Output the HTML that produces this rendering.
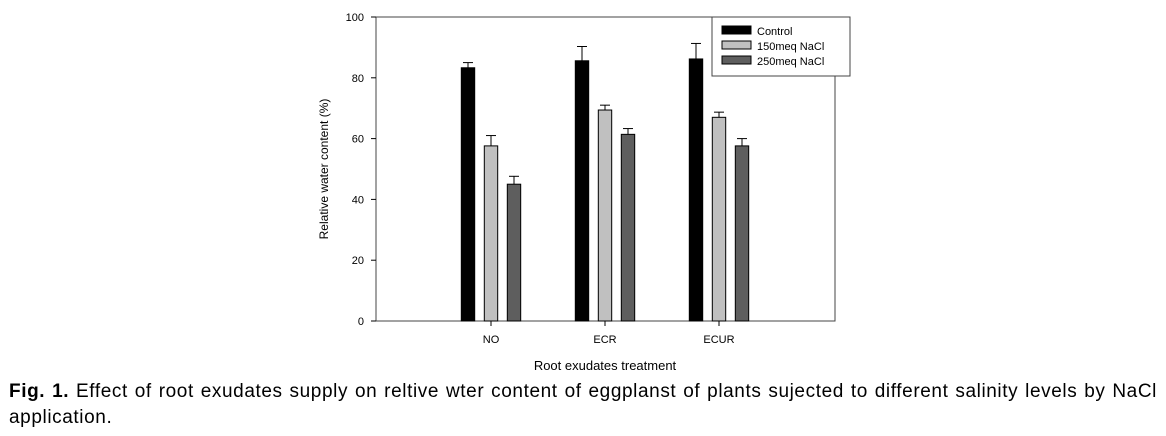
<!DOCTYPE html>
<html><head><meta charset="utf-8"><style>
body{margin:0;width:1166px;height:436px;background:#fff;overflow:hidden;position:relative;font-family:"Liberation Sans",sans-serif}
#cap{position:absolute;left:9px;top:379px;width:1148px;font-size:19px;letter-spacing:0.6px;line-height:26px;text-align:justify;text-align-last:left;color:#000}
</style></head><body>
<svg id="chart" width="1166" height="380" style="position:absolute;left:0;top:0" font-family="Liberation Sans, sans-serif"></svg>
<div id="cap"><b>Fig. 1.</b> Effect of root exudates supply on reltive wter content of eggplanst of plants sujected to different salinity levels by NaCl application.</div>
<script>
const categories=["NO","ECR","ECUR"];
const seriesNames=["Control","150meq NaCl","250meq NaCl"];
const control=[83.3,85.6,86.2];
const nacl150=[57.6,69.4,67.0];
const nacl250=[45.0,61.4,57.6];
const errControl=[1.7,4.7,5.1];
const err150=[3.4,1.6,1.7];
const err250=[2.6,1.9,2.4];
const yTicks=[0,20,40,60,80,100];
const colors=["#000000","#c0c0c0","#5e5e5e"];
const svg=document.getElementById('chart');const NS="http://www.w3.org/2000/svg";
function mk(t,a,p){const e=document.createElementNS(NS,t);for(const k in a)e.setAttribute(k,a[k]);(p||svg).appendChild(e);return e;}
const L=376,R=835,T=17,B=321;
const y=v=>B-(v-0)/(100-0)*(B-T);
const x=i=>491+i*114;
const bw=13.4,step=23;
const frame=mk('rect',{x:L,y:T,width:R-L,height:B-T,fill:'none',stroke:'#444','stroke-width':1});


yTicks.forEach(v=>{
 const tk=mk('line',{x1:L-5,x2:L,y1:y(v),y2:y(v),stroke:'#000'});
 
 
 const t=mk('text',{x:L-12,y:y(v)+4,'text-anchor':'end','font-size':11,fill:'#000'});t.textContent=v;
 
 
});
const series=[control,nacl150,nacl250],errs=[errControl,err150,err250];
categories.forEach((c,i)=>{
 const tk=mk('line',{x1:x(i),x2:x(i),y1:B,y2:B+5,stroke:'#000'});
 
 
 const t=mk('text',{x:x(i),y:B+22,'text-anchor':'middle','font-size':11});t.textContent=c;
 
 
 series.forEach((s,j)=>{
  const cx=x(i)+(j-1)*step;
  const top=y(s[i]+errs[j][i]);
  const el=mk('line',{x1:cx,x2:cx,y1:top,y2:y(s[i]),stroke:'#000'});
  
  
  const ec=mk('line',{x1:cx-5,x2:cx+5,y1:top,y2:top,stroke:'#000'});
  
  
  const r=mk('rect',{x:cx-bw/2,y:y(s[i]),width:bw,height:B-y(s[i]),fill:colors[j],stroke:'#000','stroke-width':1});
  
  
 });
});
const yl=mk('text',{x:0,y:0,transform:'translate(328,169) rotate(-90)','text-anchor':'middle','font-size':12});yl.textContent='Relative water content (%)';


const xl=mk('text',{x:605,y:370,'text-anchor':'middle','font-size':13});xl.textContent='Root exudates treatment';


const lg=mk('g',{});


mk('rect',{x:712,y:17,width:138,height:59,fill:'#fff',stroke:'#444'},lg);
seriesNames.forEach((n,j)=>{
 const sw=mk('rect',{x:722,y:26+j*15,width:29,height:8,fill:colors[j],stroke:'#000'},lg);
 
 
 const t=mk('text',{x:757,y:35+j*15,'font-size':11},lg);t.textContent=n;
 
 
});
</script>
</body></html>
